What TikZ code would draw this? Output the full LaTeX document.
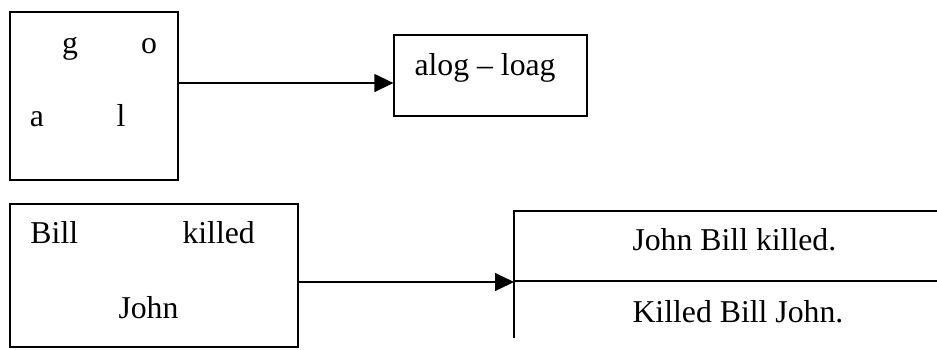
\documentclass[tikz,border=0pt]{standalone}
\usepackage{fontspec}
\setmainfont{Liberation Serif}
\usetikzlibrary{arrows.meta}
\begin{document}
\begin{tikzpicture}[x=0.4pt,y=-0.4pt,
  box/.style={draw,line width=0.5pt,inner sep=0pt},
  txt/.style={anchor=base,inner sep=0pt,font=\fontsize{12.7pt}{15pt}\selectfont},
  conn/.style={line width=0.5pt,-{Triangle[length=7.6pt,width=7.2pt]}}]
\useasboundingbox (0,0) rectangle (937,349);
% box 1
\node[box,minimum width=67.2pt,minimum height=67.2pt] (b1) at (94,96) {};
\node[txt] (tg) at (70,53) {g};
\node[txt] (to) at (149,53) {o};
\node[txt] (ta) at (37,126) {a};
\node[txt] (tl) at (121,126) {l};
% box 2
\node[box,minimum width=77.2pt,minimum height=32.4pt] (b2) at (490.5,75.5) {};
\node[txt,anchor=base west] (talog) at (414,75) {alog -- loag};
\coordinate (a1s) at (178,83);
\draw[conn] (a1s) -- (b2.west |- a1s);
% box 3
\node[box,minimum width=115.2pt,minimum height=57.2pt] (b3) at (154,275.5) {};
\node[txt,anchor=base west] (tbill) at (30,243) {Bill};
\node[txt,anchor=base west] (tkilled) at (182,243) {killed};
\node[txt,anchor=base west] (tjohn) at (118,318) {John};
% box 4 (open)
\coordinate (b4tr) at (937,211);
\coordinate (b4tl) at (514,211);
\coordinate (b4bl) at (514,338);
\coordinate (b4ml) at (514,281);
\coordinate (b4mr) at (937,281);
\draw[line width=0.5pt] (b4tr) -- (b4tl) -- (b4bl);
\draw[line width=1pt] (b4ml) -- (b4mr);
\node[txt,anchor=base west] (r1) at (632,250) {John Bill killed.};
\node[txt,anchor=base west] (r2) at (632,322) {Killed Bill John.};
\coordinate (a2s) at (298,282);
\draw[conn] (a2s) -- (b4ml |- a2s);
\end{tikzpicture}
\end{document}
